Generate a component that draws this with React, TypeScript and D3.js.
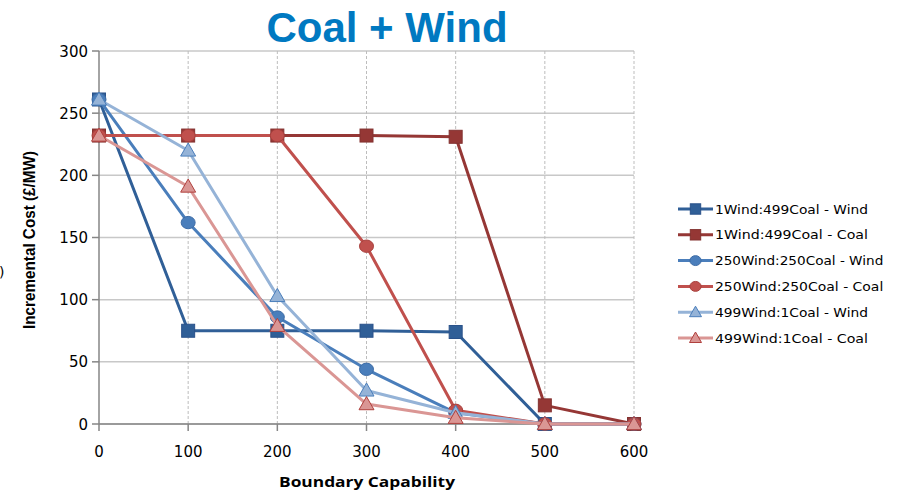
import React from "react";
import * as d3 from "d3";

const xValues = [0, 100, 200, 300, 400, 500, 600];
const seriesNames = [
  "1Wind:499Coal - Wind",
  "1Wind:499Coal - Coal",
  "250Wind:250Coal - Wind",
  "250Wind:250Coal - Coal",
  "499Wind:1Coal - Wind",
  "499Wind:1Coal - Coal",
];
const wind1Coal499Wind = [261, 75, 75, 75, 74, 0, 0];
const wind1Coal499Coal = [232, 232, 232, 232, 231, 15, 0];
const wind250Coal250Wind = [261, 162, 86, 44, 9, 0, 0];
const wind250Coal250Coal = [232, 232, 232, 143, 11, 0, 0];
const wind499Coal1Wind = [261, 220, 103, 27, 9, 0, 0];
const wind499Coal1Coal = [232, 191, 79, 16, 5, 0, 0];
const yTicks = [0, 50, 100, 150, 200, 250, 300];
const xTicks = [0, 100, 200, 300, 400, 500, 600];

const seriesValues = [
  wind1Coal499Wind,
  wind1Coal499Coal,
  wind250Coal250Wind,
  wind250Coal250Coal,
  wind499Coal1Wind,
  wind499Coal1Coal,
];
const styles = [
  { line: "#305F97", fill: "#305F97", stroke: "#2A528A", shape: "square" },
  { line: "#953735", fill: "#953735", stroke: "#833230", shape: "square" },
  { line: "#4A7EBB", fill: "#4A7EBB", stroke: "#3D6CA6", shape: "circle" },
  { line: "#C0504D", fill: "#C0504D", stroke: "#A8403D", shape: "circle" },
  { line: "#95B3D7", fill: "#95B3D7", stroke: "#4A7EBB", shape: "triangle" },
  { line: "#DA9694", fill: "#DA9694", stroke: "#B0403D", shape: "triangle" },
];

const W = 900;
const H = 492;
const left = 99;
const right = 634;
const top = 51;
const bottom = 424;

function Marker({ shape, cx, cy, fill, stroke, k = 1 }: any) {
  if (shape === "square") {
    const h = 6.5 * k;
    return <rect x={cx - h} y={cy - h} width={2 * h} height={2 * h} fill={fill} stroke={stroke} strokeWidth={1} />;
  }
  if (shape === "circle") {
    return <ellipse cx={cx} cy={cy} rx={7 * k} ry={6.2 * k} fill={fill} stroke={stroke} strokeWidth={1} />;
  }
  const s = 7.5 * k;
  const p = `${cx},${cy - s} ${cx + s},${cy + s * 0.75} ${cx - s},${cy + s * 0.75}`;
  return <polygon points={p} fill={fill} stroke={stroke} strokeWidth={1} />;
}

export default function App() {
  const x = d3.scaleLinear().domain([0, 600]).range([left, right]);
  const y = d3.scaleLinear().domain([0, 300]).range([bottom, top]);
  const line = d3
    .line<number>()
    .x((_, i) => x(xValues[i]))
    .y((d) => y(d));
  const font = "'DejaVu Sans', sans-serif";
  const legendY0 = 209;
  const legendStep = 25.8;
  return (
    <svg width={W} height={H} style={{ position: "absolute", left: 0, top: 0 }}>
      <rect width={W} height={H} fill="#fff" />
      {yTicks.map((t) => (
        <line key={"hg" + t} x1={left} x2={right} y1={y(t)} y2={y(t)} stroke="#C8C8C8" strokeWidth={1.5} />
      ))}
      {xTicks.filter((t) => t > 0).map((t) => (
        <line key={"vg" + t} x1={x(t)} x2={x(t)} y1={top} y2={bottom} stroke="#BDBDBD" strokeWidth={1} strokeDasharray="3,2" />
      ))}
      <line x1={left} x2={left} y1={top} y2={bottom} stroke="#868686" strokeWidth={1.5} />
      <line x1={left} x2={right} y1={bottom} y2={bottom} stroke="#868686" strokeWidth={1.5} />
      {yTicks.map((t) => (
        <g key={"yt" + t}>
          <line x1={left - 7} x2={left} y1={y(t)} y2={y(t)} stroke="#868686" strokeWidth={1.5} />
          <text x={left - 11} y={y(t) + 5.5} textAnchor="end" fontFamily={font} fontSize={15} fill="#000">
            {t}
          </text>
        </g>
      ))}
      {xTicks.map((t) => (
        <g key={"xt" + t}>
          <line x1={x(t)} x2={x(t)} y1={bottom} y2={bottom + 7} stroke="#868686" strokeWidth={1.5} />
          <text x={x(t)} y={457} textAnchor="middle" fontFamily={font} fontSize={15} fill="#000">
            {t}
          </text>
        </g>
      ))}
      {seriesValues.map((vals, si) => (
        <g key={"s" + si}>
          <path d={line(vals) || ""} fill="none" stroke={styles[si].line} strokeWidth={3} strokeLinejoin="round" />
          {vals.map((v, i) => (
            <Marker key={i} shape={styles[si].shape} cx={x(xValues[i])} cy={y(v)} fill={styles[si].fill} stroke={styles[si].stroke} />
          ))}
        </g>
      ))}
      <text x={387} y={42} textAnchor="middle" fontFamily="'Liberation Sans', Arial, sans-serif" fontWeight="bold" fontSize={42} fill="#0079C1">
        Coal + Wind
      </text>
      <text
        x={367}
        y={486.5}
        textAnchor="middle"
        fontFamily="'Open Sans', sans-serif"
        fontWeight="bold"
        fontSize={15}
        fill="#000"
        textLength={176}
        lengthAdjust="spacingAndGlyphs"
      >
        Boundary Capability
      </text>
      <text
        transform={`translate(35,240) rotate(-90)`}
        textAnchor="middle"
        fontFamily="'Liberation Sans', Arial, sans-serif"
        fontWeight="bold"
        fontSize={16.5}
        fill="#000"
        textLength={178}
        lengthAdjust="spacingAndGlyphs"
      >
        Incremental Cost (£/MW)
      </text>
      <text x={-1} y={277} fontFamily={font} fontSize={14} fill="#000">)</text>
      {seriesNames.map((name, i) => {
        const ly = legendY0 + i * legendStep;
        return (
          <g key={"lg" + i}>
            <line x1={678} x2={713} y1={ly} y2={ly} stroke={styles[i].line} strokeWidth={3} />
            <Marker shape={styles[i].shape} cx={695.5} cy={ly} fill={styles[i].fill} stroke={styles[i].stroke} k={0.8} />
            <text
              x={715}
              y={ly + 4.5}
              fontFamily={font}
              fontSize={13}
              fill="#000"
              textLength={name.length * 7.65}
              lengthAdjust="spacingAndGlyphs"
            >
              {name}
            </text>
          </g>
        );
      })}
    </svg>
  );
}
